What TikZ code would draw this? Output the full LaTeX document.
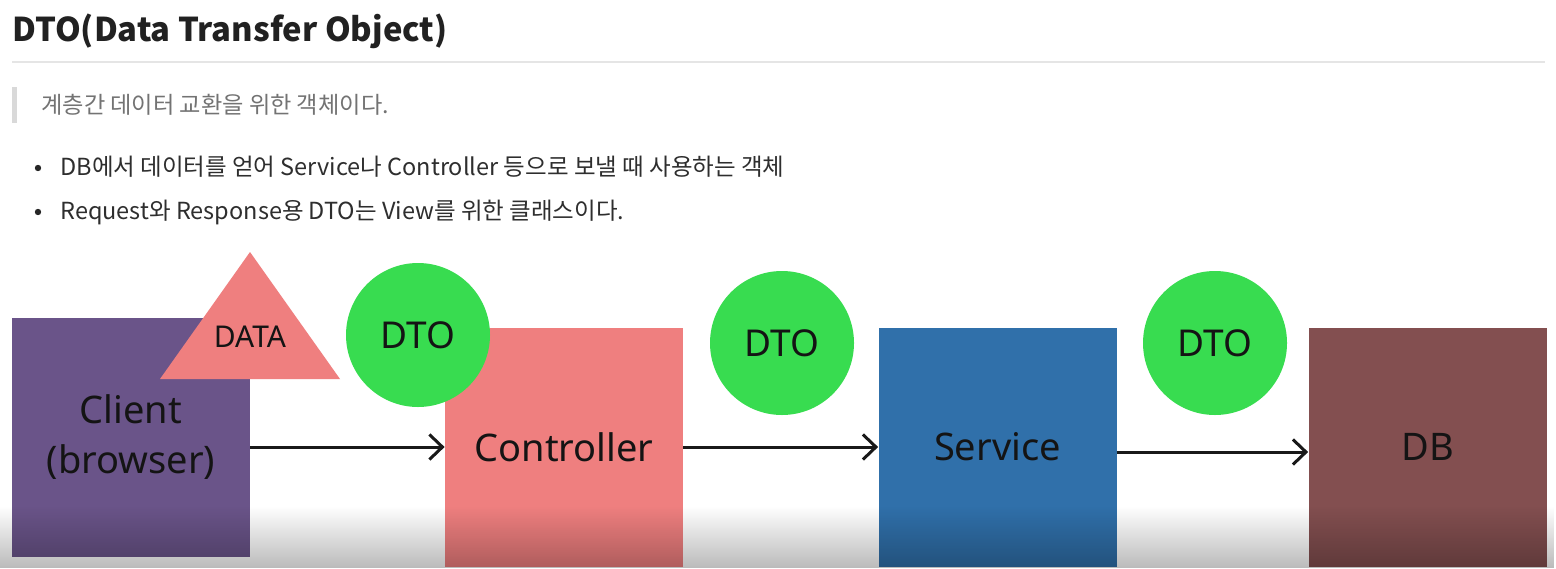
\documentclass[tikz,border=0pt]{standalone}
\usepackage{fontspec}
\setmainfont{Noto Sans CJK KR}
\newfontfamily\diagfont{Noto Sans}
\usetikzlibrary{arrows.meta,fadings}
\definecolor{cpurple}{RGB}{106,84,137}
\definecolor{csalmon}{RGB}{239,127,127}
\definecolor{cgreen}{RGB}{56,220,80}
\definecolor{cblue}{RGB}{48,112,170}
\definecolor{cbrown}{RGB}{131,79,80}
\begin{document}
\begin{tikzpicture}[x=0.5pt,y=-0.5pt,
  box/.style={rectangle, inner sep=0pt, minimum width=119pt, minimum height=119.5pt,
    font=\diagfont\fontsize{19}{25}\selectfont, text=black!92, align=center},
  dto/.style={circle, fill=cgreen, minimum size=72pt, inner sep=0pt,
    font=\diagfont\fontsize{18.5}{22}\selectfont, text=black!92},
  arr/.style={-{Straight Barb[length=6.5pt,width=12.5pt]}, line width=1.5pt, black!90},
  bodytext/.style={anchor=base west, inner sep=0pt, text=black!82, font=\fontsize{11.75}{14}\selectfont},
]
\useasboundingbox (0,0) rectangle (1556,568);
\fill[white] (0,0) rectangle (1556,568);

% header
\node[anchor=base west, inner sep=0pt, font=\bfseries\fontsize{16.4}{19}\selectfont, text=black!87] (title) at (12,41) {DTO(Data Transfer Object)};
\draw[black!10, line width=0.75pt] (12,62) -- (1545,62);
\fill[black!15] (12,87) rectangle (17,123);
\node[anchor=base west, inner sep=0pt, text=black!55, font=\fontsize{11.6}{14}\selectfont] (quote) at (41,113) {계층간 데이터 교환을 위한 객체이다.};

\fill[black!85] (38,168) circle (3.2);
\node[bodytext] (b1) at (60,175) {DB에서 데이터를 얻어 Service나 Controller 등으로 보낼 때 사용하는 객체};
\fill[black!85] (38,212) circle (3.2);
\node[bodytext] (b2) at (60,219) {Request와 Response용 DTO는 View를 위한 클래스이다.};

% boxes
\node[box, fill=cpurple] (client) at (131,437) {Client\\(browser)};
\node[box, fill=csalmon] (ctrl) at (564,447) {\raisebox{-2.5pt}{Controller}};
\node[box, fill=cblue] (svc) at (997.5,447) {\raisebox{-2.5pt}{Service}};
\node[box, fill=cbrown] (db) at (1427.5,447) {\raisebox{-2.5pt}{DB}};

% data triangle
\fill[csalmon] (250,252) -- (340,379) -- (160,379) -- cycle;
\node[font=\diagfont\fontsize{15}{18}\selectfont, text=black!92, inner sep=0pt] (data) at (250,337) {DATA};

% DTO circles
\node[dto] (dto1) at (418,335) {DTO};
\node[dto] (dto2) at (782,343) {DTO};
\node[dto] (dto3) at (1215,343) {DTO};

% arrows
\draw[arr] (client.east |- ctrl.west) -- (ctrl.west);
\draw[arr] (ctrl.east) -- (svc.west);
\draw[arr] ([yshift=-2.5pt]svc.east) -- ([yshift=-2.5pt]db.west);

% bottom darkening of the screenshot
\fill[black, path fading=north, fill opacity=0.27] (0,506) rectangle (1556,568);
\end{tikzpicture}
\end{document}
